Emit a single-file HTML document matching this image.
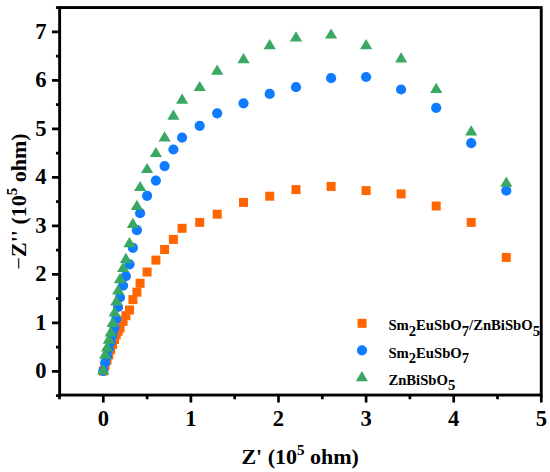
<!DOCTYPE html>
<html><head><meta charset="utf-8"><title>Nyquist plot</title>
<style>
html,body{margin:0;padding:0;background:#fff;}
body{width:550px;height:472px;overflow:hidden;font-family:"Liberation Serif",serif;}
svg{display:block;}
text{font-family:"Liberation Serif",serif;font-weight:bold;fill:#000;}
</style></head><body>
<svg width="550" height="472" viewBox="0 0 550 472">
<rect x="0" y="0" width="550" height="472" fill="#fff"/>
<g fill="#FF6600"><rect x="98.80" y="366.50" width="9" height="9"/><rect x="100.60" y="361.10" width="9" height="9"/><rect x="102.50" y="355.80" width="9" height="9"/><rect x="104.30" y="350.50" width="9" height="9"/><rect x="106.20" y="345.20" width="9" height="9"/><rect x="108.10" y="340.00" width="9" height="9"/><rect x="110.00" y="335.00" width="9" height="9"/><rect x="111.80" y="330.30" width="9" height="9"/><rect x="113.60" y="326.80" width="9" height="9"/><rect x="115.50" y="323.50" width="9" height="9"/><rect x="118.60" y="316.90" width="9" height="9"/><rect x="121.40" y="311.20" width="9" height="9"/><rect x="125.00" y="305.50" width="9" height="9"/><rect x="128.40" y="295.10" width="9" height="9"/><rect x="132.40" y="287.70" width="9" height="9"/><rect x="135.60" y="278.80" width="9" height="9"/><rect x="142.60" y="267.50" width="9" height="9"/><rect x="151.40" y="255.60" width="9" height="9"/><rect x="160.10" y="245.00" width="9" height="9"/><rect x="168.90" y="234.90" width="9" height="9"/><rect x="177.60" y="223.80" width="9" height="9"/><rect x="195.20" y="217.90" width="9" height="9"/><rect x="212.70" y="209.70" width="9" height="9"/><rect x="239.00" y="197.90" width="9" height="9"/><rect x="265.20" y="191.70" width="9" height="9"/><rect x="291.50" y="185.10" width="9" height="9"/><rect x="326.60" y="181.90" width="9" height="9"/><rect x="361.60" y="186.10" width="9" height="9"/><rect x="396.60" y="189.40" width="9" height="9"/><rect x="431.70" y="201.50" width="9" height="9"/><rect x="466.70" y="217.90" width="9" height="9"/><rect x="501.80" y="252.90" width="9" height="9"/></g>
<g fill="#0F7BFF"><circle cx="103.30" cy="371.00" r="5.1"/><circle cx="105.10" cy="362.80" r="5.1"/><circle cx="107.00" cy="356.00" r="5.1"/><circle cx="108.80" cy="349.00" r="5.1"/><circle cx="110.70" cy="342.00" r="5.1"/><circle cx="112.60" cy="335.00" r="5.1"/><circle cx="114.50" cy="327.80" r="5.1"/><circle cx="116.30" cy="318.90" r="5.1"/><circle cx="118.10" cy="307.00" r="5.1"/><circle cx="120.00" cy="297.40" r="5.1"/><circle cx="123.10" cy="285.60" r="5.1"/><circle cx="125.90" cy="276.20" r="5.1"/><circle cx="129.50" cy="264.30" r="5.1"/><circle cx="132.90" cy="247.80" r="5.1"/><circle cx="136.90" cy="230.20" r="5.1"/><circle cx="140.10" cy="213.20" r="5.1"/><circle cx="147.10" cy="195.80" r="5.1"/><circle cx="155.90" cy="180.60" r="5.1"/><circle cx="164.60" cy="166.10" r="5.1"/><circle cx="173.40" cy="149.50" r="5.1"/><circle cx="182.10" cy="137.60" r="5.1"/><circle cx="199.70" cy="125.80" r="5.1"/><circle cx="217.20" cy="113.30" r="5.1"/><circle cx="243.50" cy="103.30" r="5.1"/><circle cx="269.70" cy="93.90" r="5.1"/><circle cx="296.00" cy="87.20" r="5.1"/><circle cx="331.10" cy="78.20" r="5.1"/><circle cx="366.10" cy="77.00" r="5.1"/><circle cx="401.10" cy="89.50" r="5.1"/><circle cx="436.20" cy="107.80" r="5.1"/><circle cx="471.20" cy="143.20" r="5.1"/><circle cx="506.30" cy="190.70" r="5.1"/></g>
<g fill="#38A862"><path d="M103.30 364.20L109.40 374.40L97.20 374.40Z"/><path d="M105.10 348.50L111.20 358.70L99.00 358.70Z"/><path d="M107.00 341.40L113.10 351.60L100.90 351.60Z"/><path d="M108.80 333.50L114.90 343.70L102.70 343.70Z"/><path d="M110.70 326.20L116.80 336.40L104.60 336.40Z"/><path d="M112.60 316.80L118.70 327.00L106.50 327.00Z"/><path d="M114.50 306.40L120.60 316.60L108.40 316.60Z"/><path d="M116.30 295.30L122.40 305.50L110.20 305.50Z"/><path d="M118.10 284.20L124.20 294.40L112.00 294.40Z"/><path d="M120.00 273.10L126.10 283.30L113.90 283.30Z"/><path d="M123.10 261.90L129.20 272.10L117.00 272.10Z"/><path d="M125.90 252.80L132.00 263.00L119.80 263.00Z"/><path d="M129.50 237.10L135.60 247.30L123.40 247.30Z"/><path d="M132.90 217.80L139.00 228.00L126.80 228.00Z"/><path d="M136.90 199.80L143.00 210.00L130.80 210.00Z"/><path d="M140.10 180.90L146.20 191.10L134.00 191.10Z"/><path d="M147.10 162.90L153.20 173.10L141.00 173.10Z"/><path d="M155.90 146.90L162.00 157.10L149.80 157.10Z"/><path d="M164.60 131.20L170.70 141.40L158.50 141.40Z"/><path d="M173.40 109.60L179.50 119.80L167.30 119.80Z"/><path d="M182.10 93.60L188.20 103.80L176.00 103.80Z"/><path d="M199.70 80.90L205.80 91.10L193.60 91.10Z"/><path d="M217.20 64.60L223.30 74.80L211.10 74.80Z"/><path d="M243.50 53.00L249.60 63.20L237.40 63.20Z"/><path d="M269.70 39.10L275.80 49.30L263.60 49.30Z"/><path d="M296.00 31.30L302.10 41.50L289.90 41.50Z"/><path d="M331.10 28.40L337.20 38.60L325.00 38.60Z"/><path d="M366.10 39.10L372.20 49.30L360.00 49.30Z"/><path d="M401.10 52.20L407.20 62.40L395.00 62.40Z"/><path d="M436.20 82.80L442.30 93.00L430.10 93.00Z"/><path d="M471.20 125.30L477.30 135.50L465.10 135.50Z"/><path d="M506.30 176.50L512.40 186.70L500.20 186.70Z"/></g>
<rect x="59.65" y="7.55" width="481.60" height="387.50" fill="none" stroke="#000" stroke-width="2.9"/>
<path d="M103.30 395.05V402.45M190.90 395.05V402.45M278.50 395.05V402.45M366.10 395.05V402.45M453.70 395.05V402.45M541.30 395.05V402.45M59.50 395.05V399.35M147.10 395.05V399.35M234.70 395.05V399.35M322.30 395.05V399.35M409.90 395.05V399.35M497.50 395.05V399.35M59.65 371.30H51.95M59.65 322.80H51.95M59.65 274.30H51.95M59.65 225.80H51.95M59.65 177.30H51.95M59.65 128.80H51.95M59.65 80.30H51.95M59.65 31.80H51.95M59.65 395.55H55.95M59.65 347.05H55.95M59.65 298.55H55.95M59.65 250.05H55.95M59.65 201.55H55.95M59.65 153.05H55.95M59.65 104.55H55.95M59.65 56.05H55.95M59.65 7.55H55.95" stroke="#000" stroke-width="2.7" fill="none"/>
<text x="103.30" y="425.6" font-size="22.6" text-anchor="middle">0</text>
<text x="190.90" y="425.6" font-size="22.6" text-anchor="middle">1</text>
<text x="278.50" y="425.6" font-size="22.6" text-anchor="middle">2</text>
<text x="366.10" y="425.6" font-size="22.6" text-anchor="middle">3</text>
<text x="453.70" y="425.6" font-size="22.6" text-anchor="middle">4</text>
<text x="541.30" y="425.6" font-size="22.6" text-anchor="middle">5</text>
<text x="46.6" y="378.10" font-size="22.6" text-anchor="end">0</text>
<text x="46.6" y="329.60" font-size="22.6" text-anchor="end">1</text>
<text x="46.6" y="281.10" font-size="22.6" text-anchor="end">2</text>
<text x="46.6" y="232.60" font-size="22.6" text-anchor="end">3</text>
<text x="46.6" y="184.10" font-size="22.6" text-anchor="end">4</text>
<text x="46.6" y="135.60" font-size="22.6" text-anchor="end">5</text>
<text x="46.6" y="87.10" font-size="22.6" text-anchor="end">6</text>
<text x="46.6" y="38.60" font-size="22.6" text-anchor="end">7</text>
<text x="241.4" y="464.3" font-size="22">Z' (10<tspan font-size="15" dy="-9.1">5</tspan><tspan dy="9.1"> ohm)</tspan></text>
<text transform="translate(26.2 269.4) rotate(-90)" font-size="22"><tspan font-weight="normal">−</tspan>Z'' (10<tspan font-size="15" dy="-9.1">5</tspan><tspan dy="9.1"> ohm)</tspan></text>
<g fill="#FF6600"><rect x="357.60" y="318.80" width="9" height="9"/></g>
<g fill="#0F7BFF"><circle cx="362.00" cy="350.30" r="5.1"/></g>
<g fill="#38A862"><path d="M361.90 371.10L368.00 381.30L355.80 381.30Z"/></g>
<text x="388.4" y="330.2" font-size="14.67">Sm<tspan dy="5.5">2</tspan><tspan dy="-5.5">EuSbO</tspan><tspan dy="5.5">7</tspan><tspan dy="-5.5">/ZnBiSbO</tspan><tspan dy="5.5">5</tspan></text>
<text x="388.4" y="357.6" font-size="14.67">Sm<tspan dy="5.5">2</tspan><tspan dy="-5.5">EuSbO</tspan><tspan dy="5.5">7</tspan></text>
<text x="388.4" y="384.7" font-size="14.67">ZnBiSbO<tspan dy="5.5">5</tspan></text>
</svg></body></html>
